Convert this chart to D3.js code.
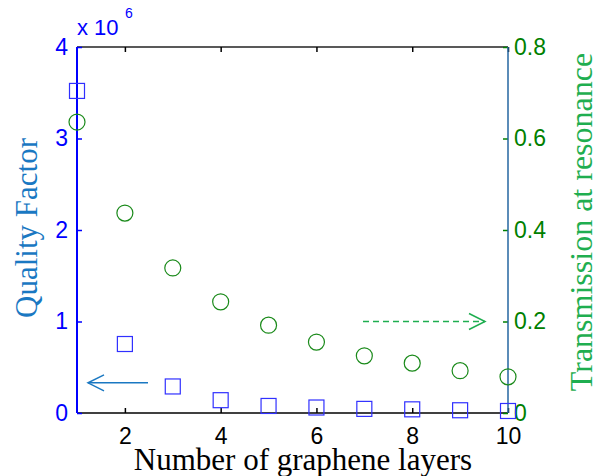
<!DOCTYPE html>
<html>
<head>
<meta charset="utf-8">
<script src="https://cdn.jsdelivr.net/npm/d3@7"></script>
<style>
  body { margin: 0; background: #fff; }
  svg { display: block; }
</style>
</head>
<body>
<svg id="chart"></svg>
<script>
// Number of graphene layers
var layers = [1, 2, 3, 4, 5, 6, 7, 8, 9, 10];
// Quality factor (x 10^6)
var quality = [3.52, 0.754, 0.29, 0.14, 0.077, 0.06, 0.045, 0.04, 0.03, 0.022];
// Transmission at resonance
var transmission = [0.636, 0.437, 0.317, 0.243, 0.192, 0.155, 0.125, 0.109, 0.0925, 0.079];

var xTicks = [2, 4, 6, 8, 10];
var qTicks = [0, 1, 2, 3, 4];
var tTicks = [0, 0.2, 0.4, 0.6, 0.8];

var width = 601, height = 476;
var margin = {top: 47, right: 93, bottom: 63, left: 77};

var svg = d3.select("#chart")
    .attr("width", width)
    .attr("height", height);

var x = d3.scaleLinear()
    .domain([1, 10])
    .range([margin.left, width - margin.right]);

var yQ = d3.scaleLinear()
    .domain([0, 4])
    .range([height - margin.bottom, margin.top]);

var yT = d3.scaleLinear()
    .domain([0, 0.8])
    .range([height - margin.bottom, margin.top]);

var sans = "Liberation Sans, Arial, sans-serif";
var serif = "Liberation Serif, Times New Roman, serif";
var tickSize = 23;

var blue = "#0000ff";
var green = "#008000";

// box: top and bottom black
svg.append("line")
    .attr("x1", x(1)).attr("x2", x(10))
    .attr("y1", yQ(4)).attr("y2", yQ(4))
    .attr("stroke", "#222").attr("stroke-width", 1.3);

svg.append("line")
    .attr("x1", x(1)).attr("x2", x(10))
    .attr("y1", yQ(0)).attr("y2", yQ(0))
    .attr("stroke", "#000").attr("stroke-width", 1.5);

// bottom x axis (ticks pointing inward)
var xAxis = g => g
    .attr("transform", `translate(0,${yQ(0)})`)
    .call(d3.axisBottom(x).tickValues(xTicks).tickSize(-5).tickPadding(15).tickFormat(d3.format("d")))
    .call(g => g.attr("font-family", sans).attr("font-size", tickSize))
    .call(g => g.select(".domain").remove())
    .call(g => g.selectAll("line").attr("stroke", "#000").attr("stroke-width", 1.5))
    .call(g => g.selectAll("text").attr("fill", "#000"));

svg.append("g").call(xAxis);

// top ticks
svg.append("g")
    .attr("transform", `translate(0,${yQ(4)})`)
    .call(d3.axisTop(x).tickValues(xTicks).tickSize(-5).tickFormat(""))
    .call(g => g.select(".domain").remove())
    .call(g => g.selectAll("line").attr("stroke", "#000").attr("stroke-width", 1.5));

// left axis
var yAxisQ = g => g
    .attr("transform", `translate(${margin.left},0)`)
    .call(d3.axisLeft(yQ).tickValues(qTicks).tickSize(-5).tickPadding(9).tickFormat(d3.format("d")))
    .call(g => g.attr("font-family", sans).attr("font-size", tickSize))
    .call(g => g.select(".domain").remove())
    .call(g => g.selectAll("line").attr("stroke", blue).attr("stroke-width", 1.5))
    .call(g => g.selectAll("text").attr("fill", blue));

svg.append("g").call(yAxisQ);

svg.append("line")
    .attr("x1", x(1)).attr("x2", x(1))
    .attr("y1", yQ(0)).attr("y2", yQ(4))
    .attr("stroke", blue).attr("stroke-width", 2);

// right axis
var yAxisT = g => g
    .attr("transform", `translate(${width - margin.right},0)`)
    .call(d3.axisRight(yT).tickValues(tTicks).tickSize(-5).tickPadding(6).tickFormat(d => d === 0 ? "0" : d3.format(".1f")(d)))
    .call(g => g.attr("font-family", sans).attr("font-size", tickSize))
    .call(g => g.select(".domain").remove())
    .call(g => g.selectAll("line").attr("stroke", green).attr("stroke-width", 1.5))
    .call(g => g.selectAll("text").attr("fill", green));

svg.append("g").call(yAxisT);

svg.append("line")
    .attr("x1", x(10)).attr("x2", x(10))
    .attr("y1", yQ(0)).attr("y2", yQ(4))
    .attr("stroke", "#2566a0").attr("stroke-width", 1.5);

// exponent label
var expo = svg.append("text")
    .attr("x", 77)
    .attr("y", 35)
    .attr("fill", blue)
    .attr("font-family", sans)
    .attr("font-size", 22);
expo.append("tspan").text("x 10");
expo.append("tspan")
    .attr("x", 125)
    .attr("y", 18)
    .attr("font-size", 14)
    .text("6");

// squares
var sq = 15;
svg.append("g")
    .selectAll("rect")
    .data(layers)
    .enter().append("rect")
    .attr("x", (d, i) => x(d) - sq / 2)
    .attr("y", (d, i) => yQ(quality[i]) - sq / 2)
    .attr("width", sq)
    .attr("height", sq)
    .attr("fill", "none")
    .attr("stroke", "#3030ff")
    .attr("stroke-width", 1.2);

// circles
svg.append("g")
    .selectAll("circle")
    .data(layers)
    .enter().append("circle")
    .attr("cx", d => x(d))
    .attr("cy", (d, i) => yT(transmission[i]))
    .attr("r", 8)
    .attr("fill", "none")
    .attr("stroke", "#1a8a1a")
    .attr("stroke-width", 1.2);

// arrows
var arrowBlue = "#1a78c2";
var arrowGreen = "#1fae50";

svg.append("line")
    .attr("x1", 148).attr("x2", 88)
    .attr("y1", yQ(0.33)).attr("y2", yQ(0.33))
    .attr("stroke", arrowBlue).attr("stroke-width", 1.5);
svg.append("path")
    .attr("d", `M${104},${yQ(0.33) - 8} L88,${yQ(0.33)} L${104},${yQ(0.33) + 8}`)
    .attr("fill", "none")
    .attr("stroke", arrowBlue).attr("stroke-width", 1.5);

svg.append("line")
    .attr("x1", 363).attr("x2", 485)
    .attr("y1", yT(0.2)).attr("y2", yT(0.2))
    .attr("stroke", arrowGreen).attr("stroke-width", 1.5)
    .attr("stroke-dasharray", "6,4");
svg.append("path")
    .attr("d", `M${469},${yT(0.2) - 8} L485,${yT(0.2)} L${469},${yT(0.2) + 8}`)
    .attr("fill", "none")
    .attr("stroke", arrowGreen).attr("stroke-width", 1.5);

// axis titles
svg.append("text")
    .attr("x", 303)
    .attr("y", 470)
    .attr("text-anchor", "middle")
    .attr("fill", "#000")
    .attr("font-family", serif)
    .attr("font-size", 31)
    .text("Number of graphene layers");

svg.append("text")
    .attr("transform", "translate(37,228) rotate(-90)")
    .attr("text-anchor", "middle")
    .attr("fill", arrowBlue)
    .attr("font-family", serif)
    .attr("font-size", 31)
    .text("Quality Factor");

svg.append("text")
    .attr("transform", "translate(592,222) rotate(-90)")
    .attr("text-anchor", "middle")
    .attr("fill", arrowGreen)
    .attr("font-family", serif)
    .attr("font-size", 32)
    .text("Transmission at resonance");
</script>
</body>
</html>
